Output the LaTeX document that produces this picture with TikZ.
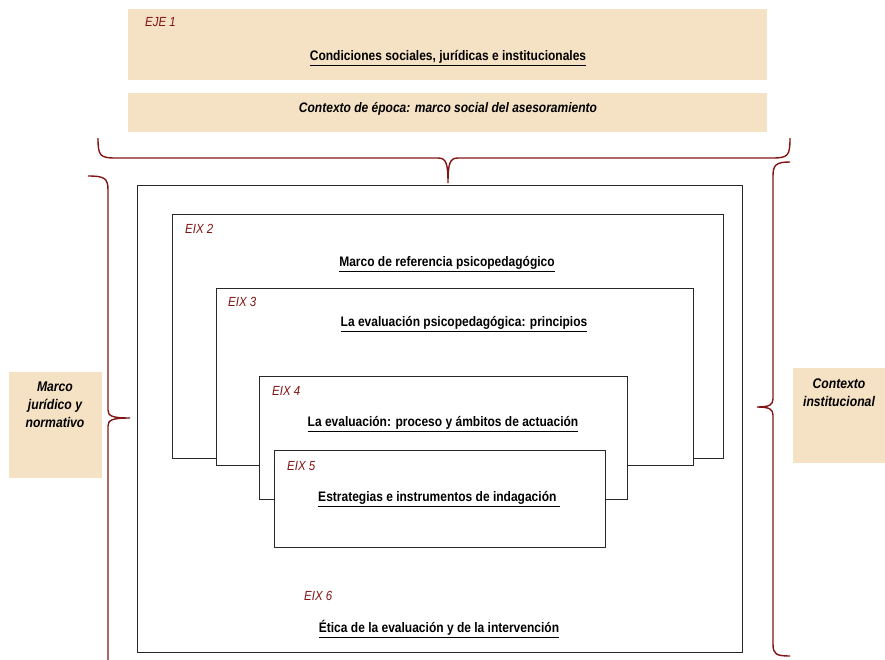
\documentclass[tikz,border=0pt]{standalone}
\usepackage{fontspec}
\setmainfont{Liberation Sans}[FakeStretch=0.87]
\definecolor{beige}{RGB}{245,225,195}
\definecolor{maroonc}{RGB}{130,20,20}
\definecolor{boxline}{RGB}{40,40,40}
\newcommand{\ul}[1]{\underline{#1}}
\tikzset{
  beigebox/.style={fill=beige, draw=none, inner sep=0pt},
  nestbox/.style={draw=boxline, line width=1.2pt, fill=white, inner sep=0pt, anchor=north west},
  axislabel/.style={anchor=west, inner sep=0pt, text=maroonc, font=\fontsize{13.2}{15}\selectfont\itshape},
  titletext/.style={inner sep=0pt, font=\fontsize{13.8}{16}\selectfont\bfseries},
  sidetext/.style={inner sep=0pt, align=center, font=\fontsize{14}{18}\selectfont\bfseries\itshape},
  bracepath/.style={draw=maroonc, line width=1.4pt}
}
\begin{document}
\begin{tikzpicture}[x=1pt,y=-1pt]
\useasboundingbox (0,0) rectangle (885,659);
% top boxes
\node[beigebox, minimum width=639pt, minimum height=71pt, anchor=north west] (e1) at (128,9) {};
\node[axislabel] (l1) at (145,22) {EJE 1};
\node[titletext] (t1) at (448,58) {\ul{Condiciones sociales, jurídicas e institucionales}};
\node[beigebox, minimum width=639pt, minimum height=39pt, anchor=north west] (ctx) at (128,93) {};
\node[titletext, font=\fontsize{13.8}{16}\selectfont\bfseries\itshape] (tctx) at (448,109) {Contexto de época: marco social del asesoramiento};
% side boxes
\node[beigebox, minimum width=93pt, minimum height=106pt, anchor=north west] (lb) at (9,372) {};
\node[sidetext, anchor=north] (lbt) at (55,382) {Marco\\jurídico y\\normativo};
\node[beigebox, minimum width=92pt, minimum height=95pt, anchor=north west] (rb) at (793,368) {};
\node[sidetext, anchor=north] (rbt) at (839,379) {Contexto\\institucional};
% braces
\coordinate (tbL) at (98,138);
\coordinate (tbR) at (790,138);
\coordinate (tbTip) at (448,183);
\draw[bracepath] (tbL) .. controls (98,156) and (100,158) .. (116,158) -- (438,158)
  .. controls (446,158) and (448,163) .. (tbTip)
  .. controls (448,163) and (450,158) .. (458,158) -- (772,158)
  .. controls (788,158) and (790,156) .. (tbR);
\coordinate (lbTop) at (88,176);
\coordinate (lbTip) at (130,418);
\coordinate (lbBot) at (108,662);
\draw[bracepath] (lbTop) .. controls (104,176) and (108,178) .. (108,190) -- (108,410)
  .. controls (108,416) and (112,418) .. (lbTip)
  .. controls (112,418) and (108,420) .. (108,426) -- (lbBot);
\coordinate (rbTop) at (790,162);
\coordinate (rbTip) at (757,407);
\coordinate (rbBot) at (790,656);
\draw[bracepath] (rbTop) .. controls (776,162) and (773,165) .. (773,176) -- (773,399)
  .. controls (773,405) and (769,407) .. (rbTip)
  .. controls (769,407) and (773,409) .. (773,415) -- (773,644)
  .. controls (773,654) and (776,656) .. (rbBot);
% nested boxes
\node[nestbox, minimum width=605pt, minimum height=467pt] (b6) at (137,185) {};
\node[nestbox, minimum width=551pt, minimum height=244pt] (b2) at (172,214) {};
\node[nestbox, minimum width=477pt, minimum height=177pt] (b3) at (216,288) {};
\node[nestbox, minimum width=368pt, minimum height=123pt] (b4) at (259,376) {};
\node[nestbox, minimum width=331pt, minimum height=97pt] (b5) at (274,450) {};
% labels
\node[axislabel] (l2) at (185,229) {EIX 2};
\node[titletext] (t2) at (447,264) {\ul{Marco de referencia psicopedagógico}};
\node[axislabel] (l3) at (228,302) {EIX 3};
\node[titletext] (t3) at (464,324) {\ul{La evaluación psicopedagógica: principios}};
\node[axislabel] (l4) at (272,391) {EIX 4};
\node[titletext] (t4) at (443,424) {\ul{La evaluación: proceso y ámbitos de actuación}};
\node[axislabel] (l5) at (287,466) {EIX 5};
\node[titletext] (t5) at (439,499) {\ul{Estrategias e instrumentos de indagación\ }};
\node[axislabel] (l6) at (304,596) {EIX 6};
\node[titletext] (t6) at (439,629) {\ul{Ética de la evaluación y de la intervención}};
\end{tikzpicture}
\end{document}
